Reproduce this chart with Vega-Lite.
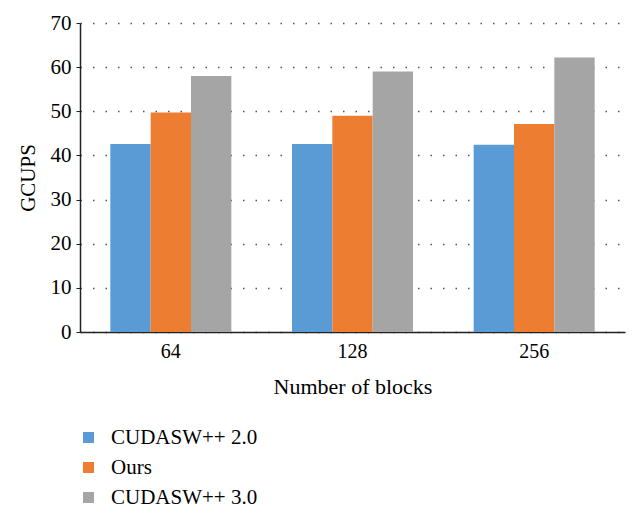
{
  "$schema": "https://vega.github.io/schema/vega-lite/v6.json",
  "autosize": "none",
  "width": 545,
  "height": 309,
  "padding": {"left": 80, "top": 23, "right": 15, "bottom": 181},
  "background": "white",
  "config": {
    "view": {"stroke": null},
    "font": "Liberation Serif, Times New Roman, serif"
  },
  "data": {
    "values": [
      {"blocks": "64", "series": "CUDASW++ 2.0", "gcups": 42.6},
      {"blocks": "64", "series": "Ours", "gcups": 49.7},
      {"blocks": "64", "series": "CUDASW++ 3.0", "gcups": 58.0},
      {"blocks": "128", "series": "CUDASW++ 2.0", "gcups": 42.6},
      {"blocks": "128", "series": "Ours", "gcups": 49.0},
      {"blocks": "128", "series": "CUDASW++ 3.0", "gcups": 59.0},
      {"blocks": "256", "series": "CUDASW++ 2.0", "gcups": 42.4},
      {"blocks": "256", "series": "Ours", "gcups": 47.1},
      {"blocks": "256", "series": "CUDASW++ 3.0", "gcups": 62.2}
    ]
  },
  "mark": {"type": "bar"},
  "encoding": {
    "x": {
      "field": "blocks",
      "type": "nominal",
      "sort": ["64", "128", "256"],
      "scale": {"paddingInner": 0.334, "paddingOuter": 0.167},
      "axis": {
        "title": "Number of blocks",
        "labelAngle": 0,
        "labelFont": "Liberation Serif, Times New Roman, serif",
        "labelFontSize": 20,
        "labelColor": "#000",
        "labelPadding": 9,
        "ticks": false,
        "domainColor": "#222",
        "domainWidth": 1.5,
        "titleFont": "Liberation Serif, Times New Roman, serif",
        "titleFontSize": 22,
        "titleFontWeight": "normal",
        "titleColor": "#000",
        "titlePadding": 15
      }
    },
    "xOffset": {
      "field": "series",
      "type": "nominal",
      "sort": ["CUDASW++ 2.0", "Ours", "CUDASW++ 3.0"],
      "scale": {"paddingInner": 0, "paddingOuter": 0}
    },
    "y": {
      "field": "gcups",
      "type": "quantitative",
      "scale": {"domain": [0, 70]},
      "axis": {
        "title": "GCUPS",
        "values": [0, 10, 20, 30, 40, 50, 60, 70],
        "labelFont": "Liberation Serif, Times New Roman, serif",
        "labelFontSize": 21,
        "labelColor": "#000",
        "labelPadding": 5,
        "tickSize": 4,
        "tickColor": "#222",
        "domainColor": "#222",
        "domainWidth": 1.5,
        "grid": true,
        "gridColor": "#555",
        "gridDash": [1.5, 11],
        "gridWidth": 1.5,
        "titleFont": "Liberation Serif, Times New Roman, serif",
        "titleFontSize": 21,
        "titleFontWeight": "normal",
        "titleColor": "#000",
        "titlePadding": 12
      }
    },
    "color": {
      "field": "series",
      "type": "nominal",
      "sort": ["CUDASW++ 2.0", "Ours", "CUDASW++ 3.0"],
      "scale": {
        "domain": ["CUDASW++ 2.0", "Ours", "CUDASW++ 3.0"],
        "range": ["#5B9BD5", "#ED7D31", "#A5A5A5"]
      },
      "legend": {
        "title": null,
        "orient": "none",
        "legendX": -2,
        "legendY": 404,
        "symbolType": "square",
        "symbolSize": 121,
        "labelFont": "Liberation Serif, Times New Roman, serif",
        "labelFontSize": 21,
        "labelColor": "#000",
        "labelOffset": 12,
        "rowPadding": 8
      }
    }
  }
}
